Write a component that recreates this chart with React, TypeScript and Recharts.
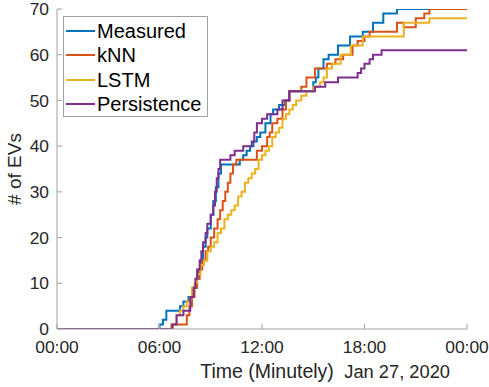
import React from "react";
import { LineChart, Line, XAxis, YAxis, Legend } from "recharts";

// time of day in hours, cumulative number of EVs
const measuredHours = [0, 6.0, 6.2, 6.4, 7.2, 7.4, 7.7, 7.9, 8.0, 8.2, 8.3, 8.4, 8.55, 8.7, 8.8, 9.0, 9.15, 9.3, 9.45, 9.6, 10.7, 10.9, 11.1, 11.3, 11.5, 11.7, 11.9, 12.2, 12.5, 12.65, 13.0, 13.35, 13.6, 15.0, 15.15, 15.3, 15.6, 15.9, 16.45, 17.15, 17.9, 18.5, 19.1, 19.9, 24];
const measuredCounts = [0, 1, 2, 4, 5, 6, 7, 8, 9, 11, 13, 15, 18, 20, 22, 25, 28, 31, 34, 36, 37, 38, 39, 40, 41, 42, 43, 45, 47, 48, 49, 50, 52, 54, 55, 57, 59, 60, 62, 64, 65, 67, 69, 70, 70];

const knnHours = [0, 6.7, 7.6, 7.75, 7.9, 8.05, 8.2, 8.35, 8.5, 8.7, 8.85, 9.0, 9.2, 9.4, 9.55, 9.7, 9.85, 10.0, 10.15, 10.3, 10.5, 11.7, 12.0, 12.3, 12.45, 12.6, 12.9, 13.2, 13.4, 13.6, 14.3, 14.6, 15.1, 15.8, 16.3, 16.75, 17.3, 17.6, 18.0, 18.3, 19.9, 20.3, 21.0, 21.5, 21.8, 24];
const knnCounts = [0, 1, 3, 5, 7, 9, 11, 13, 15, 17, 18, 20, 22, 24, 26, 28, 30, 32, 34, 36, 37, 39, 40, 42, 43, 45, 46, 48, 50, 52, 53, 55, 57, 58, 59, 60, 62, 63, 64, 65, 67, 66, 68, 69, 70, 70];

const lstmHours = [0, 6.8, 7.0, 7.2, 7.4, 7.6, 7.8, 7.9, 8.05, 8.2, 8.4, 8.6, 8.8, 9.0, 9.2, 9.4, 9.6, 9.8, 10.0, 10.2, 10.4, 10.6, 10.8, 11.0, 11.2, 11.4, 11.6, 11.8, 12.0, 12.2, 12.4, 12.6, 12.8, 13.0, 13.2, 13.4, 13.6, 13.8, 14.0, 14.3, 14.6, 15.0, 15.4, 15.6, 15.8, 16.1, 16.6, 17.2, 17.9, 20.3, 21.8, 24];
const lstmCounts = [0, 1, 3, 4, 5, 6, 7, 9, 10, 12, 14, 15, 17, 18, 19, 21, 22, 24, 25, 26, 27, 29, 30, 32, 33, 34, 35, 37, 38, 39, 40, 42, 43, 44, 46, 47, 48, 49, 50, 51, 52, 53, 54, 55, 57, 58, 60, 62, 64, 67, 68, 68];

const persistenceHours = [0, 6.75, 7.0, 7.4, 7.8, 8.0, 8.1, 8.2, 8.35, 8.45, 8.55, 8.7, 8.8, 9.0, 9.15, 9.25, 9.35, 9.45, 9.55, 10.15, 10.4, 10.9, 11.4, 11.55, 11.7, 12.0, 12.3, 12.9, 13.2, 13.6, 15.1, 15.7, 16.45, 17.6, 17.8, 18.0, 18.3, 18.5, 19.0, 24];
const persistenceCounts = [0, 1, 3, 4, 7, 9, 11, 13, 15, 17, 19, 21, 23, 25, 27, 30, 33, 35, 37, 38, 39, 40, 41, 43, 45, 46, 47, 48, 50, 52, 53, 54, 55, 56, 57, 58, 59, 60, 61, 61];

const xTicks = [0, 6, 12, 18, 24];
const yTicks = [0, 10, 20, 30, 40, 50, 60, 70];

const FONT = "'Liberation Sans', Arial, Helvetica, sans-serif";
const AXIS = "#a0a0a0";
const TEXT = "#262626";

const toRows = (hours: number[], counts: number[]) =>
    hours.map((t, i) => ({ t, v: counts[i] }));

const SERIES = [
    { name: "Measured", color: "#0072BD", data: toRows(measuredHours, measuredCounts) },
    { name: "kNN", color: "#D95319", data: toRows(knnHours, knnCounts) },
    { name: "LSTM", color: "#EDB120", data: toRows(lstmHours, lstmCounts) },
    { name: "Persistence", color: "#7E2F8E", data: toRows(persistenceHours, persistenceCounts) },
];

const fmtHour = (h: number) => `${String(h % 24).padStart(2, "0")}:00`;

const renderLegend = () => (
    <div
        style={{
            boxSizing: "border-box",
            width: 145,
            height: 101,
            border: `1px solid ${AXIS}`,
            background: "#fff",
            padding: "2px 0 0 2px",
            fontFamily: FONT,
            fontSize: 20,
            lineHeight: "20px",
            color: "#000",
        }}
    >
        {SERIES.map((s) => (
            <div key={s.name} style={{ display: "flex", alignItems: "center", height: 24.3 }}>
                <svg width={29} height={4} style={{ display: "block" }}>
                    <line x1={0} y1={2} x2={29} y2={2} stroke={s.color} strokeWidth={2} />
                </svg>
                <span style={{ marginLeft: 2 }}>{s.name}</span>
            </div>
        ))}
    </div>
);

export default function App() {
    const tickStyle = { fontSize: 17.4, fill: TEXT, fontFamily: FONT };
    return (
        <div style={{ position: "absolute", left: 0, top: 0, background: "#fff" }}>
            <LineChart width={489} height={387} margin={{ top: 9, right: 22, bottom: 0, left: 0 }}>
                <XAxis
                    dataKey="t"
                    type="number"
                    domain={[0, 24]}
                    ticks={xTicks}
                    tickFormatter={fmtHour}
                    allowDataOverflow
                    height={58}
                    stroke={AXIS}
                    tickSize={-5}
                    tickMargin={17}
                    tick={tickStyle}
                    interval={0}
                    label={{
                        content: (props: any) => {
                            const vb = props.viewBox || { x: 57, y: 329, width: 410 };
                            return (
                                <g style={{ fontFamily: FONT, fill: TEXT }}>
                                    <text x={vb.x + vb.width * 0.5 + 5} y={378} textAnchor="middle" fontSize={19.5}>
                                        Time (Minutely)
                                    </text>
                                    <text x={vb.x + vb.width - 17} y={378} textAnchor="end" fontSize={18.3}>
                                        Jan 27, 2020
                                    </text>
                                </g>
                            );
                        },
                    }}
                />
                <XAxis
                    xAxisId="top"
                    orientation="top"
                    type="number"
                    domain={[0, 24]}
                    ticks={xTicks}
                    allowDataOverflow
                    height={0}
                    stroke={AXIS}
                    tickSize={-5}
                    tick={false}
                />
                <YAxis
                    type="number"
                    domain={[0, 70]}
                    ticks={yTicks}
                    allowDataOverflow
                    width={57}
                    stroke={AXIS}
                    tickSize={-5}
                    tickMargin={13}
                    tick={tickStyle}
                    interval={0}
                    label={{
                        content: (props: any) => {
                            const vb = props.viewBox || { x: 0, y: 9, height: 320 };
                            const cx = 14;
                            const cy = vb.y + vb.height / 2;
                            return (
                                <text
                                    x={cx}
                                    y={cy}
                                    transform={`rotate(-90 ${cx} ${cy})`}
                                    textAnchor="middle"
                                    dominantBaseline="central"
                                    style={{ fontFamily: FONT, fontSize: 19, fill: TEXT }}
                                >
                                    # of EVs
                                </text>
                            );
                        },
                    }}
                />
                <YAxis
                    yAxisId="right"
                    orientation="right"
                    type="number"
                    domain={[0, 70]}
                    ticks={yTicks}
                    allowDataOverflow
                    width={0}
                    stroke={AXIS}
                    tickSize={-5}
                    tick={false}
                />
                <Legend
                    layout="vertical"
                    align="center"
                    verticalAlign="middle"
                    content={renderLegend}
                    wrapperStyle={{ top: 16, left: 63, width: 145 }}
                />
                {SERIES.map((s) => (
                    <Line
                        key={s.name}
                        name={s.name}
                        data={s.data}
                        dataKey="v"
                        type="stepAfter"
                        stroke={s.color}
                        strokeWidth={2}
                        dot={false}
                        activeDot={false}
                        isAnimationActive={false}
                    />
                ))}
            </LineChart>
        </div>
    );
}
